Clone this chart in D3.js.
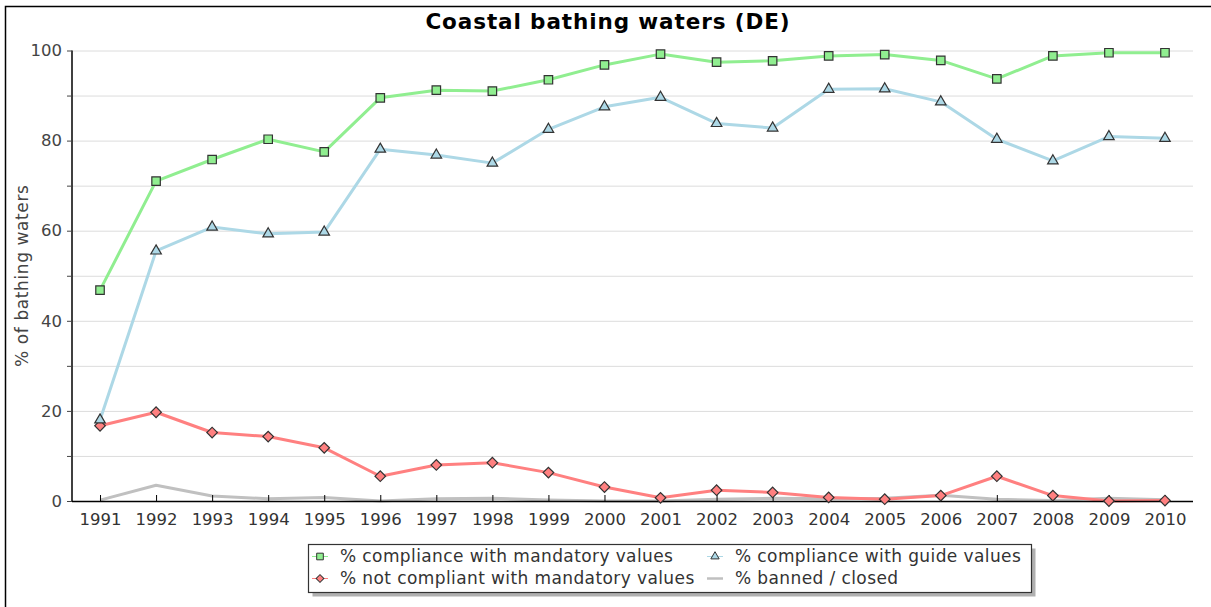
<!DOCTYPE html>
<html>
<head>
<meta charset="utf-8">
<script src="https://cdn.jsdelivr.net/npm/d3@7"></script>
<style>
  body { margin: 0; background: #fff; }
  svg { display: block; font-family: "DejaVu Sans", sans-serif; }
</style>
</head>
<body>
<div id="chart"></div>
<script>
const years = ["1991","1992","1993","1994","1995","1996","1997","1998","1999","2000",
               "2001","2002","2003","2004","2005","2006","2007","2008","2009","2010"];

const mandatory = [46.8, 71.0, 75.8, 80.3, 77.5, 89.5, 91.2, 91.0, 93.5, 96.8,
                   99.2, 97.4, 97.7, 98.8, 99.1, 97.8, 93.7, 98.8, 99.5, 99.5];
const guide     = [18.0, 55.5, 60.8, 59.3, 59.7, 78.1, 76.8, 75.0, 82.5, 87.5,
                   89.6, 83.8, 82.8, 91.4, 91.5, 88.6, 80.3, 75.5, 80.9, 80.5];
const notCompliant = [16.7, 19.7, 15.2, 14.3, 11.8, 5.5, 8.0, 8.5, 6.3, 3.1,
                      0.7, 2.4, 1.9, 0.8, 0.4, 1.2, 5.5, 1.2, 0.0, 0.1];
const banned    = [0.2, 3.5, 1.1, 0.5, 0.8, 0.0, 0.5, 0.6, 0.2, 0.0,
                   0.0, 0.4, 0.6, 0.5, 0.6, 1.3, 0.4, 0.1, 0.6, 0.3];

const yTicks = [0, 20, 40, 60, 80, 100];
const yGrid = [0, 10, 20, 30, 40, 50, 60, 70, 80, 90, 100];

const series = [
  {name: "% compliance with mandatory values", values: mandatory, color: "#90ee90", shape: "square"},
  {name: "% compliance with guide values", values: guide, color: "#add8e6", shape: "triangle"},
  {name: "% not compliant with mandatory values", values: notCompliant, color: "#ff8080", shape: "diamond"},
  {name: "% banned / closed", values: banned, color: "#c0c0c0", shape: "none"}
];
// draw order: gray at the back, then red, blue, green
const drawOrder = [3, 2, 1, 0];
// legend slots: [col,row]
const legendSlots = [[0,0],[1,0],[0,1],[1,1]];

const W = 1211, H = 607;
const plotL = 72, plotR = 1193, plotT = 50.5, plotB = 501;

const svg = d3.select("#chart").append("svg")
  .attr("width", W)
  .attr("height", H);

// outer frame
svg.append("rect")
  .attr("x", 5.5).attr("y", 6.5)
  .attr("width", W).attr("height", H)
  .attr("fill", "none").attr("stroke", "#000").attr("stroke-width", 1.5);

// title
svg.append("text")
  .attr("x", 608).attr("y", 29)
  .attr("text-anchor", "middle")
  .attr("font-weight", "bold")
  .attr("font-size", 21.5)
  .attr("letter-spacing", 0.9)
  .attr("fill", "#000")
  .text("Coastal bathing waters (DE)");

const x = d3.scalePoint().domain(years).range([plotL, plotR]).padding(0.5);
const y = d3.scaleLinear().domain([0, 100]).range([plotB, plotT]);

// grid lines
svg.append("g").selectAll("line")
  .data(yGrid)
  .enter().append("line")
  .attr("x1", plotL).attr("x2", plotR)
  .attr("y1", d => y(d) + 0.5).attr("y2", d => y(d) + 0.5)
  .attr("stroke", "#dcdcdc").attr("stroke-width", 1);

// y axis
const yAxis = d3.axisLeft(y).tickValues(yGrid).tickSize(5).tickPadding(5)
  .tickFormat(d => yTicks.includes(d) ? d : "");
const gY = svg.append("g").attr("transform", "translate(" + plotL + ",0)").call(yAxis);
gY.select(".domain").attr("stroke", "#000").attr("stroke-width", 1.5).attr("d", "M0," + plotT + "V" + plotB);
gY.selectAll(".tick line").attr("stroke", "#444");
gY.selectAll(".tick text").attr("font-size", 16.5).attr("fill", "#444")
  .attr("font-family", "DejaVu Sans, sans-serif");

// y axis label
svg.append("text")
  .attr("transform", "translate(28," + ((plotT + plotB) / 2) + ") rotate(-90)")
  .attr("text-anchor", "middle")
  .attr("font-size", 17)
  .attr("letter-spacing", 0.6)
  .attr("fill", "#444")
  .text("% of bathing waters");

// lines
const line = d3.line()
  .x((d, i) => x(years[i]))
  .y(d => y(d));

const symbolFor = function (shape, big) {
  if (shape === "square") return d3.symbol().type(d3.symbolSquare).size(big ? 72 : 44)();
  if (shape === "triangle") return d3.symbol().type(d3.symbolTriangle).size(big ? 48 : 30)();
  if (shape === "diamond") return d3.symbol().type(d3.symbolSquare).size(big ? 56 : 30)();
  return null;
};

drawOrder.forEach(k => {
  const s = series[k];
  svg.append("path")
    .datum(s.values)
    .attr("fill", "none")
    .attr("stroke", s.color)
    .attr("stroke-width", 3)
    .attr("stroke-linejoin", "round")
    .attr("d", line);
});

// x axis (drawn over the lines near zero)
const xAxis = d3.axisBottom(x).tickSizeInner(-6).tickSizeOuter(0).tickPadding(12);
const gX = svg.append("g").attr("transform", "translate(0," + plotB + ")").call(xAxis);
gX.select(".domain").attr("stroke", "#000").attr("stroke-width", 1.5).attr("d", "M" + plotL + ",0.5H" + plotR);
gX.selectAll(".tick line").attr("stroke", "#000");
gX.selectAll(".tick text").attr("font-size", 16.5).attr("fill", "#333")
  .attr("font-family", "DejaVu Sans, sans-serif");

// markers
drawOrder.forEach(k => {
  const s = series[k];
  if (s.shape === "none") return;
  svg.append("g").selectAll("path")
    .data(s.values)
    .enter().append("path")
    .attr("d", symbolFor(s.shape, true))
    .attr("transform", (d, i) => "translate(" + x(years[i]) + "," + y(d) + ")" + (s.shape === "diamond" ? " rotate(45)" : ""))
    .attr("fill", s.color)
    .attr("stroke", "#333")
    .attr("stroke-width", 1.2);
});

// legend
const lg = svg.append("g");
const lgX = 308.5, lgY = 544.5, lgW = 723, lgH = 48;
lg.append("rect")
  .attr("x", lgX + 4).attr("y", lgY + 4).attr("width", lgW).attr("height", lgH)
  .attr("fill", "#b0b0b0");
lg.append("rect")
  .attr("x", lgX).attr("y", lgY).attr("width", lgW).attr("height", lgH)
  .attr("fill", "#fff").attr("stroke", "#333").attr("stroke-width", 1.2);

const colSym = [320, 715], rowY = [556.5, 578.5];
series.forEach((s, k) => {
  const cx = colSym[legendSlots[k][0]], cy = rowY[legendSlots[k][1]];
  lg.append("line")
    .attr("x1", cx - 8).attr("x2", cx + 8).attr("y1", cy).attr("y2", cy)
    .attr("stroke", s.color).attr("stroke-width", s.shape === "none" ? 2.5 : 1);
  if (s.shape !== "none") {
    lg.append("path")
      .attr("d", symbolFor(s.shape, false))
      .attr("transform", "translate(" + cx + "," + cy + ")" + (s.shape === "diamond" ? " rotate(45)" : ""))
      .attr("fill", s.color).attr("stroke", "#333").attr("stroke-width", 1);
  }
  lg.append("text")
    .attr("x", cx + 20).attr("y", cy)
    .attr("dy", "0.35em")
    .attr("font-size", 17)
    .attr("letter-spacing", 0.4)
    .attr("fill", "#333")
    .text(s.name);
});
</script>
</body>
</html>
